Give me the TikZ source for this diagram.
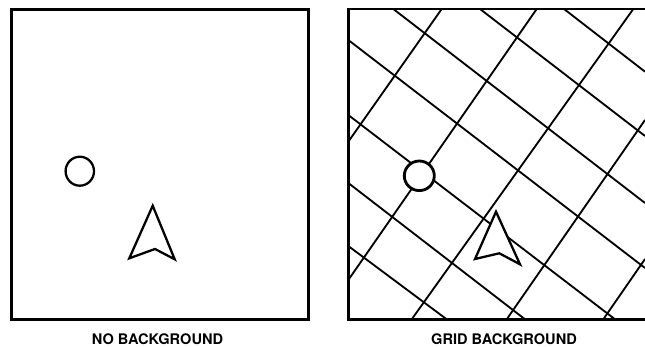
\documentclass[tikz,border=0pt]{standalone}
\usepackage{fontspec}
\setsansfont{TeX Gyre Heros}
\usetikzlibrary{positioning}

\begin{document}
\begin{tikzpicture}[x=0.02cm, y=-0.02cm,
  panel/.style={line width=1.4pt},
  gridln/.style={line width=1.05pt},
  blip/.style={line width=1.3pt, fill=white},
  caption/.style={font=\sffamily\bfseries\fontsize{8.3}{10}\selectfont, anchor=base, inner sep=0pt}]
\useasboundingbox (0,0) rectangle (645,347);

% --- left panel: no background ---
\draw[panel] (11.7,9.3) rectangle (308.3,319.3);
\draw[blip] (79.8,171.2) ellipse[x radius=14.2, y radius=14.5];
\draw[blip, line join=miter] (152.7,205.7) -- (174.7,259.3) -- (155,249) -- (129.3,258.3) -- cycle;
\node[caption] (capL) at (157.5,344.3) {NO BACKGROUND};

% --- right panel: grid background ---
% lines running down to the right
\foreach \xa/\ya/\xb/\yb in {564/9/645/71.7, 480/9/645/136, 393.3/9/645/203,
    348.3/40/645/268, 348.3/115/615/319.3, 348.3/183/525/319.3, 348.3/246/446.7/319.3}
  \draw[gridln] (\xa,\ya) -- (\xb,\yb);
% lines running up to the right
\foreach \xa/\ya/\xb/\yb in {348.3/141.7/441.7/9, 348.3/280/536.7/9, 411.7/319.3/633.3/9,
    506.7/319.3/645/120, 603.3/319.3/645/259}
  \draw[gridln] (\xa,\ya) -- (\xb,\yb);
\draw[panel] (348.3,9) rectangle (647,319.3);
\draw[blip, line width=1.6pt] (419.3,175.8) ellipse[x radius=15, y radius=14.8];
\draw[blip, line join=miter] (496,211.7) -- (520,264.3) -- (499.3,253.3) -- (475,259) -- cycle;
\node[caption] (capR) at (504,344.8) {GRID BACKGROUND};

\end{tikzpicture}
\end{document}
